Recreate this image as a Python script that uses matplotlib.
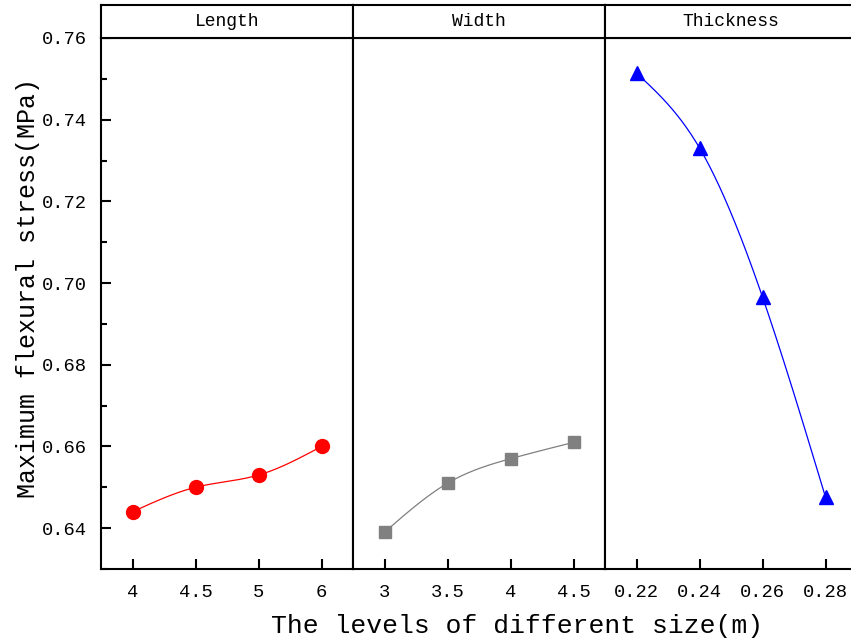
import matplotlib
matplotlib.use("Agg")
import matplotlib.pyplot as plt
import numpy as np
from matplotlib.ticker import MultipleLocator

plt.rcParams['font.family'] = ['Liberation Mono', 'DejaVu Sans Mono']

panels = ['Length', 'Width', 'Thickness']
length_lv = ['4', '4.5', '5', '6']
width_lv = ['3', '3.5', '4', '4.5']
thick_lv = ['0.22', '0.24', '0.26', '0.28']
length_val = [0.644, 0.650, 0.653, 0.660]
width_val = [0.639, 0.651, 0.657, 0.661]
thick_val = [0.7514, 0.7331, 0.6966, 0.6476]


def natural_spline(x, y, n=200):
    # natural cubic spline through the points
    x = np.asarray(x, float)
    y = np.asarray(y, float)
    k = len(x)
    h = np.diff(x)
    A = np.zeros((k, k))
    b = np.zeros(k)
    A[0, 0] = A[-1, -1] = 1
    for i in range(1, k - 1):
        A[i, i - 1] = h[i - 1]
        A[i, i] = 2 * (h[i - 1] + h[i])
        A[i, i + 1] = h[i]
        b[i] = 6 * ((y[i + 1] - y[i]) / h[i] - (y[i] - y[i - 1]) / h[i - 1])
    M = np.linalg.solve(A, b)
    xs = np.linspace(x[0], x[-1], n)
    ys = np.empty_like(xs)
    for j, t in enumerate(xs):
        i = min(np.searchsorted(x, t, side='right') - 1, k - 2)
        dx1 = x[i + 1] - t
        dx0 = t - x[i]
        ys[j] = (M[i] * dx1 ** 3 + M[i + 1] * dx0 ** 3) / (6 * h[i]) \
            + (y[i] / h[i] - M[i] * h[i] / 6) * dx1 \
            + (y[i + 1] / h[i] - M[i + 1] * h[i] / 6) * dx0
    return xs, ys


W, H = 851, 640
fig = plt.figure(figsize=(W / 100, H / 100), dpi=100)

left, pw = 101, 252
top_main, bot_main, top_head = 38, 569, 5

series = [
    (length_lv, length_val, 'red', 'o', 10),
    (width_lv, width_val, 'gray', 's', 8),
    (thick_lv, thick_val, 'blue', '^', 10),
]

for k, (labels, vals, col, mk, ms) in enumerate(series):
    x0 = left + k * pw
    ax = fig.add_axes([x0 / W, 1 - bot_main / H, pw / W, (bot_main - top_main) / H])
    hx = fig.add_axes([x0 / W, 1 - top_main / H, pw / W, (top_main - top_head) / H])

    pos = np.arange(len(vals))
    xs, ys = natural_spline(pos, vals)
    ax.plot(xs, ys, color=col, lw=0.9)
    ax.plot(pos, vals, linestyle='none', marker=mk, color=col, markersize=ms)

    ax.set_xlim(-0.5, len(vals) - 0.5)
    ax.set_ylim(0.63, 0.76)
    ax.set_xticks(pos)
    ax.set_xticklabels(labels)
    ax.tick_params(axis='x', direction='in', length=7, width=1.5, labelsize=13.5, pad=11)
    if k == 0:
        ax.yaxis.set_minor_locator(MultipleLocator(0.01))
        ax.set_yticks(np.arange(0.64, 0.761, 0.02))
        ax.set_yticklabels(['%.2f' % v for v in np.arange(0.64, 0.761, 0.02)])
        ax.tick_params(axis='y', which='major', direction='in', length=7, width=1.5,
                       labelsize=13.5, pad=10)
        ax.tick_params(axis='y', which='minor', direction='in', length=4, width=1.5)
    else:
        ax.set_yticks([])
    for s in ax.spines.values():
        s.set_linewidth(1.5)

    hx.set_xticks([])
    hx.set_yticks([])
    for s in hx.spines.values():
        s.set_linewidth(1.5)
    hx.text(0.5, 0.5, panels[k], ha='center', va='center', fontsize=13,
            transform=hx.transAxes)

fig.text(517 / W, 1 - 626 / H, 'The levels of different size(m)', ha='center',
         va='center', fontsize=19)
fig.text(28 / W, 1 - 288 / H, 'Maximum flexural stress(MPa)', ha='center',
         va='center', rotation=90, fontsize=18)

fig.savefig('out.png', dpi=100)
